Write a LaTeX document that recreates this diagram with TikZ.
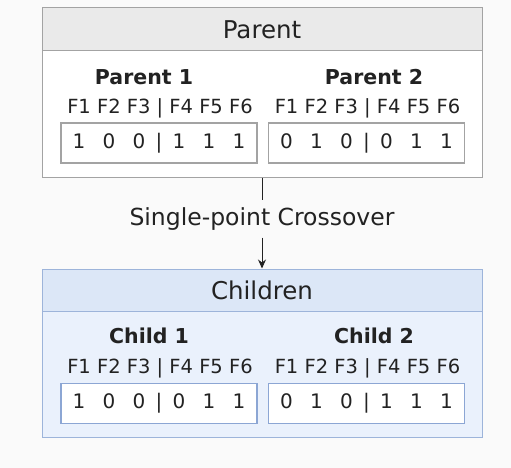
\documentclass[tikz,border=0pt]{standalone}
\usepackage{fontspec}
\setmainfont{DejaVu Sans}
\usetikzlibrary{arrows.meta}
\definecolor{ink}{HTML}{222222}
\definecolor{bgc}{HTML}{FAFAFA}
\definecolor{pline}{HTML}{A3A3A3}
\definecolor{phead}{HTML}{EAEAEA}
\definecolor{cline}{HTML}{9DB4DA}
\definecolor{cbox}{HTML}{8CA6D4}
\definecolor{chead}{HTML}{DCE7F7}
\definecolor{cbody}{HTML}{EAF1FC}
\newcommand{\bitrow}[6]{\makebox[30pt]{#1}\makebox[30pt]{#2}\makebox[30pt]{#3}\makebox[10pt]{|}\makebox[30pt]{#4}\makebox[30pt]{#5}\makebox[30pt]{#6}}
\tikzset{
  panel/.style={draw=#1, line width=1pt, minimum width=440pt, inner sep=0pt, text=ink},
  bits/.style={draw=#1, fill=white, line width=1.3pt, minimum width=196pt, minimum height=40pt, inner sep=0pt, text=ink, font=\fontsize{20}{20}\selectfont},
  fields/.style={text=ink, inner sep=0pt, font=\fontsize{19.5}{19.5}\selectfont},
  title/.style={text=ink, inner sep=0pt, font=\fontsize{20.5}{20.5}\selectfont\bfseries},
  head/.style={font=\fontsize{24.5}{24.5}\selectfont},
}
\begin{document}
\begin{tikzpicture}[x=1pt,y=-1pt]
\fill[bgc] (0,0) rectangle (511,468);
\useasboundingbox (0,0) rectangle (511,468);
% parents
\node[panel=pline, fill=white, minimum height=169pt] (parent) at (262,92.5) {};
\node[panel=pline, fill=phead, minimum height=43pt, head] (phead) at (262,29.5) {Parent};
\node[title] (p1) at (144,77) {Parent 1};
\node[fields] (pf1) at (160,108) {F1 F2 F3 | F4 F5 F6};
\node[bits=pline] (pb1) at (159,143) {\bitrow{1}{0}{0}{1}{1}{1}};
\node[title] (p2) at (374,77) {Parent 2};
\node[fields] (pf2) at (367.5,108) {F1 F2 F3 | F4 F5 F6};
\node[bits=pline] (pb2) at (366.5,143) {\bitrow{0}{1}{0}{0}{1}{1}};
% crossover
\node[text=ink, minimum height=37pt, inner sep=0pt, font=\fontsize{23.5}{23.5}\selectfont] (xo) at (262,219) {Single-point Crossover};
% children
\node[panel=cline, fill=cbody, minimum height=168pt] (children) at (262,353) {};
\node[panel=cline, fill=chead, minimum height=42pt, head] (chead) at (262,290) {Children};
\node[title] (c1) at (149,336) {Child 1};
\node[fields] (cf1) at (160,368) {F1 F2 F3 | F4 F5 F6};
\node[bits=cbox] (cb1) at (159,403.5) {\bitrow{1}{0}{0}{0}{1}{1}};
\node[title] (c2) at (374,336) {Child 2};
\node[fields] (cf2) at (367.5,368) {F1 F2 F3 | F4 F5 F6};
\node[bits=cbox] (cb2) at (366.5,403.5) {\bitrow{0}{1}{0}{1}{1}{1}};
% connector
\draw[ink, line width=1pt] (parent.south) -- (xo.north);
\draw[ink, line width=1pt, -{Stealth[length=9pt,width=8pt]}] (xo.south) -- (chead.north);
\end{tikzpicture}
\end{document}
